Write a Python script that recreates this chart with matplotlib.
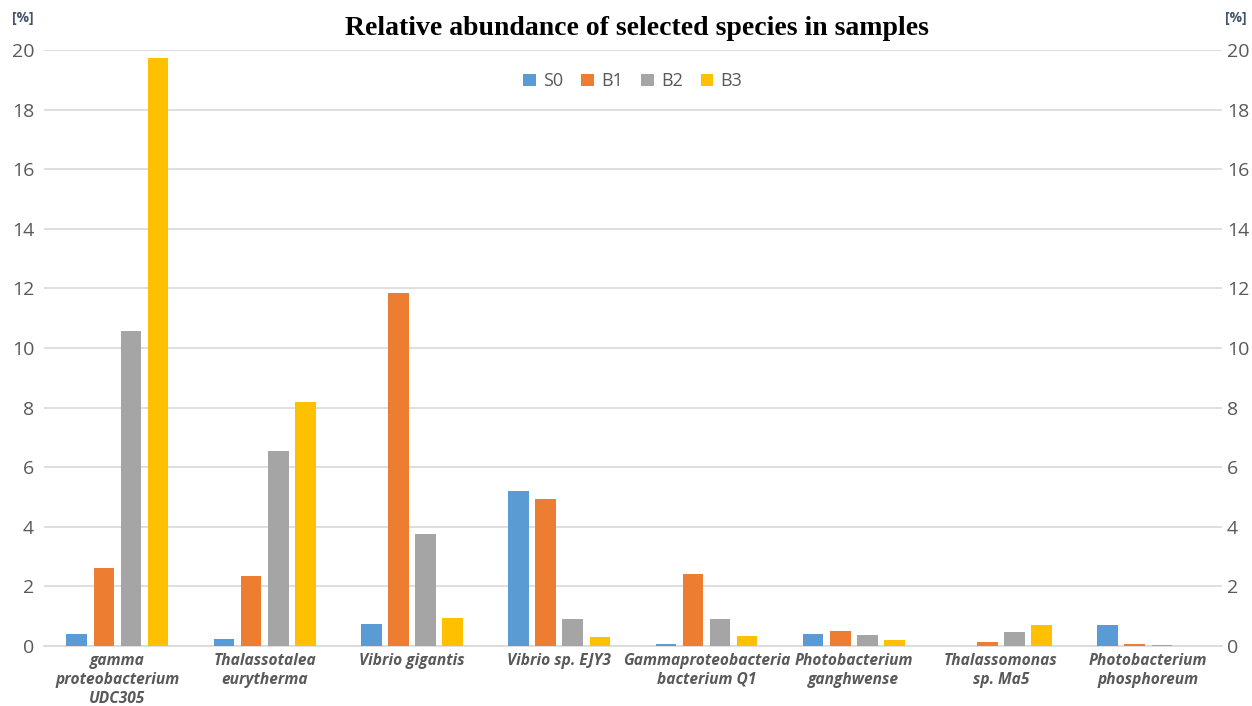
import numpy as np
import matplotlib
matplotlib.use("Agg")
import matplotlib.pyplot as plt

categories = [
    "gamma\nproteobacterium\nUDC305",
    "Thalassotalea\neurytherma",
    "Vibrio gigantis",
    "Vibrio sp. EJY3",
    "Gammaproteobacteria\nbacterium Q1",
    "Photobacterium\nganghwense",
    "Thalassomonas\nsp. Ma5",
    "Photobacterium\nphosphoreum",
]
series_names = ["S0", "B1", "B2", "B3"]
s0 = [0.40, 0.25, 0.75, 5.20, 0.08, 0.40, 0.00, 0.72]
b1 = [2.62, 2.35, 11.85, 4.93, 2.42, 0.50, 0.15, 0.08]
b2 = [10.57, 6.55, 3.77, 0.90, 0.92, 0.37, 0.47, 0.04]
b3 = [19.72, 8.18, 0.95, 0.30, 0.35, 0.20, 0.72, 0.00]
yticks = list(range(0, 21, 2))

colors = ["#5B9BD5", "#ED7D31", "#A5A5A5", "#FFC000"]
tick_col = "#595959"

fig = plt.figure(figsize=(12.52, 7.06), dpi=100)
ax = fig.add_axes([0.035, 0.085, 0.941, 0.844])

x = np.arange(len(categories))
step = 0.184
for i, (name, vals) in enumerate(zip(series_names, [s0, b1, b2, b3])):
    ax.bar(x + (i - 1.5) * step, vals, width=0.14, color=colors[i],
           label=name, zorder=3)

ax.set_xlim(-0.5, len(categories) - 0.5)
ax.set_ylim(0, 20)
ax.set_yticks(yticks)
ax.grid(axis="y", color="#D9D9D9", linewidth=1.2, zorder=0)
for sp in ["top", "left", "right"]:
    ax.spines[sp].set_visible(False)
ax.spines["bottom"].set_color("#D9D9D9")
ax.spines["bottom"].set_linewidth(1.2)
ax.tick_params(axis="y", length=0, labelsize=14, labelcolor=tick_col, pad=7)
ax.tick_params(axis="x", length=0, pad=5)
ax.set_xticks(x)
ax.set_xticklabels(categories, fontsize=11.2, fontstyle="italic", fontweight="bold",
                   color=tick_col, linespacing=1.25, va="top")
for lbl in ax.get_yticklabels():
    lbl.set_family("Open Sans")
for lbl in ax.get_xticklabels():
    lbl.set_family("Open Sans")

ax2 = ax.twinx()
ax2.set_ylim(0, 20)
ax2.set_yticks(yticks)
for sp in ax2.spines.values():
    sp.set_visible(False)
ax2.tick_params(axis="y", length=0, labelsize=14, labelcolor=tick_col, pad=3.5)
for lbl in ax2.get_yticklabels():
    lbl.set_family("Open Sans")

fig.text(0.018, 0.975, "[%]", fontsize=10, color="#44546A", ha="center", va="center",
         family="Open Sans", fontweight="bold")
fig.text(0.987, 0.975, "[%]", fontsize=10, color="#44546A", ha="center", va="center",
         family="Open Sans", fontweight="bold")

fig.text(0.509, 0.96, "Relative abundance of selected species in samples",
         fontsize=20, fontweight="bold", family="Liberation Serif", ha="center", va="center")

leg = ax.legend(loc="upper center", bbox_to_anchor=(0.5, 0.99), ncol=4, frameon=False,
                handlelength=0.7, handleheight=0.7, handletextpad=0.4, columnspacing=1.0,
                prop={"family": "Open Sans", "size": 13})
for t in leg.get_texts():
    t.set_color(tick_col)

fig.savefig("out.png", dpi=100)
